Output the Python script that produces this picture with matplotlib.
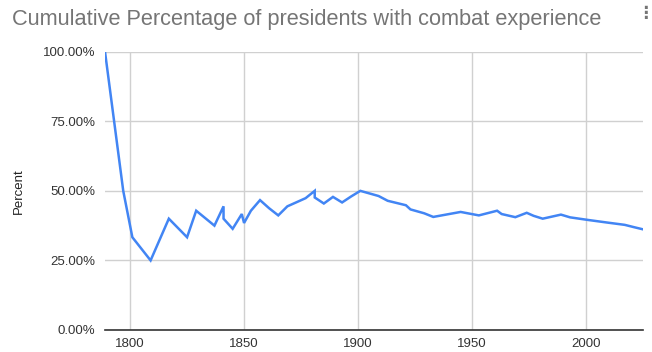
import matplotlib
matplotlib.use("Agg")
import matplotlib.pyplot as plt
from matplotlib.ticker import FuncFormatter

# inauguration year of each president and the running share with combat experience
years = [1789, 1797, 1801, 1809, 1817, 1825, 1829, 1837, 1841, 1841, 1845, 1849,
         1850, 1853, 1857, 1861, 1865, 1869, 1877, 1881, 1881, 1885, 1889, 1893,
         1897, 1901, 1909, 1913, 1921, 1923, 1929, 1933, 1945, 1953, 1961, 1963,
         1969, 1974, 1977, 1981, 1989, 1993, 2001, 2009, 2017, 2021, 2025]
percent = [100.0, 50.0, 33.33, 25.0, 40.0, 33.33, 42.86, 37.5, 44.44, 40.0, 36.36, 41.67,
           38.46, 42.86, 46.67, 43.75, 41.18, 44.44, 47.37, 50.0, 47.62, 45.45, 47.83, 45.83,
           48.0, 50.0, 48.15, 46.43, 44.83, 43.33, 41.94, 40.63, 42.42, 41.18, 42.86, 41.67,
           40.54, 42.11, 41.03, 40.0, 41.46, 40.48, 39.53, 38.64, 37.78, 36.96, 36.17]

x_ticks = [1800, 1850, 1900, 1950, 2000]
y_ticks = [0, 25, 50, 75, 100]

plt.rcParams['font.family'] = ['Liberation Sans', 'DejaVu Sans']

fig = plt.figure(figsize=(6.52, 3.52), dpi=100)
ax = fig.add_axes([105 / 652, 1 - 330 / 352, 538 / 652, (330 - 51.7) / 352])

ax.plot(years, percent, color='#4285F4', linewidth=1.8, solid_joinstyle='miter')

ax.set_xlim(1789, 2025)
ax.set_ylim(0, 100)
ax.set_xticks(x_ticks)
ax.set_yticks(y_ticks)
ax.yaxis.set_major_formatter(FuncFormatter(lambda v, p: f"{v:.2f}%"))

ax.grid(True, color='#d0d0d0', linewidth=1.0)
ax.set_axisbelow(True)
for side in ['top', 'right', 'left']:
    ax.spines[side].set_visible(False)
ax.spines['bottom'].set_color('#333333')
ax.spines['bottom'].set_linewidth(1.2)
ax.tick_params(axis='both', length=0, labelsize=9.5, labelcolor='#333333')
ax.tick_params(axis='x', pad=6)
ax.tick_params(axis='y', pad=7)

ax.set_ylabel('Percent', fontsize=9.5, color='#222222', labelpad=13)

fig.text(12 / 652, 1 - 19 / 352, 'Cumulative Percentage of presidents with combat experience',
         fontsize=15.7, color='#757575', va='center', ha='left')
fig.text(645 / 652, 1 - 13 / 352, '\u22ee', fontsize=12, color='#757575',
         va='center', ha='center', family='DejaVu Sans', fontweight='bold')

fig.savefig('out.png', dpi=100)
